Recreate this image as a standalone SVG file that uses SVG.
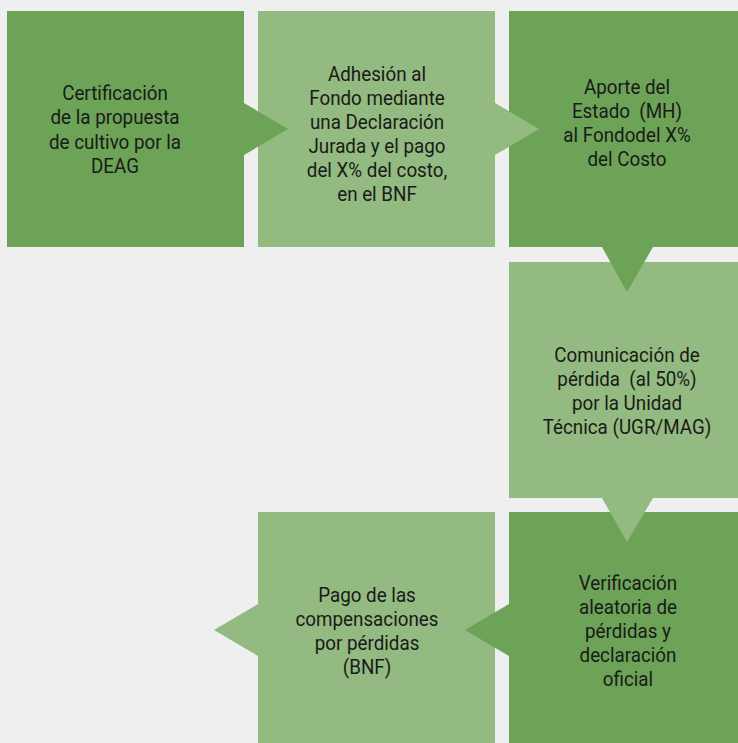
<svg xmlns="http://www.w3.org/2000/svg" width="738" height="743" viewBox="0 0 738 743">
<style>
.dark{fill:#6ca356}
.light{fill:#93ba80}
text{font-family:Roboto,"Liberation Sans",sans-serif;font-size:20px;fill:#1a1a1a;text-anchor:middle}
</style>
<rect width="738" height="743" fill="#efefef"/>
<g id="n1"><rect class="dark" x="7" y="11" width="237" height="236"/>
<text transform="translate(115,0) scale(0.94,1)"><tspan x="0" y="100">Certificación</tspan><tspan x="0" y="124.5">de la propuesta</tspan><tspan x="0" y="149">de cultivo por la</tspan><tspan x="0" y="173">DEAG</tspan></text></g>
<g id="n2"><rect class="light" x="258" y="11" width="237" height="236"/>
<text transform="translate(377,0) scale(0.94,1)"><tspan x="0" y="81">Adhesión al</tspan><tspan x="0" y="105">Fondo mediante</tspan><tspan x="0" y="129">una Declaración</tspan><tspan x="0" y="153">Jurada y el pago</tspan><tspan x="0" y="177">del X% del costo,</tspan><tspan x="0" y="201">en el BNF</tspan></text></g>
<g id="n3"><rect class="dark" x="509" y="11" width="236" height="236"/>
<text transform="translate(627,0) scale(0.94,1)" xml:space="preserve"><tspan x="0" y="94">Aporte del</tspan><tspan x="0" y="118">Estado  (MH)</tspan><tspan x="0" y="142">al Fondodel X%</tspan><tspan x="0" y="166">del Costo</tspan></text></g>
<g id="n4"><rect class="light" x="509" y="262" width="236" height="236"/>
<text transform="translate(627,0) scale(0.94,1)" xml:space="preserve"><tspan x="0" y="362">Comunicación de</tspan><tspan x="0" y="386">pérdida  (al 50%)</tspan><tspan x="0" y="410">por la Unidad</tspan><tspan x="0" y="434">Técnica (UGR/MAG)</tspan></text></g>
<g id="n5"><rect class="dark" x="509" y="512" width="236" height="236"/>
<text transform="translate(628,0) scale(0.94,1)"><tspan x="0" y="590">Verificación</tspan><tspan x="0" y="614">aleatoria de</tspan><tspan x="0" y="638">pérdidas y</tspan><tspan x="0" y="662">declaración</tspan><tspan x="0" y="686">oficial</tspan></text></g>
<g id="n6"><rect class="light" x="258" y="512" width="237" height="236"/>
<polygon class="light" points="258,604 214,630 258,656"/>
<text transform="translate(367,0) scale(0.94,1)"><tspan x="0" y="602">Pago de las</tspan><tspan x="0" y="626">compensaciones</tspan><tspan x="0" y="650">por pérdidas</tspan><tspan x="0" y="674">(BNF)</tspan></text></g>
<g id="connectors">
<polygon class="dark" points="244,103 288,129 244,155"/>
<polygon class="light" points="495,103 539,129 495,155"/>
<polygon class="dark" points="602,247 627,292 653,247"/>
<polygon class="light" points="602,498 627,542 653,498"/>
<polygon class="dark" points="509,604 465,630 509,656"/>
</g>
</svg>
